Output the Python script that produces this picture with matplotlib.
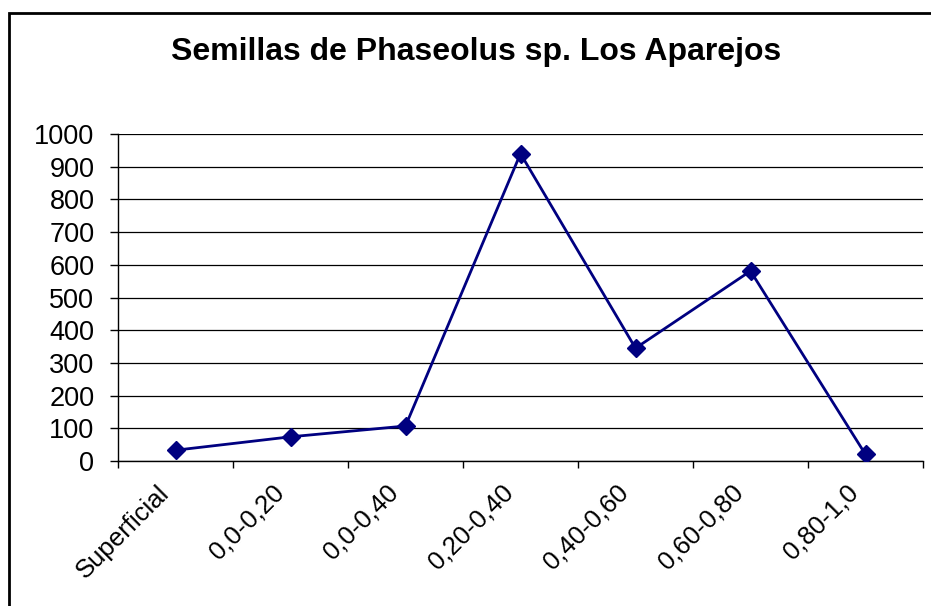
import matplotlib.pyplot as plt
from matplotlib.patches import Rectangle
from matplotlib.transforms import ScaledTranslation

# profundidades y cantidad de semillas
categorias = ["Superficial", "0,0-0,20", "0,0-0,40", "0,20-0,40",
              "0,40-0,60", "0,60-0,80", "0,80-1,0"]
semillas = [33, 74, 107, 940, 345, 581, 20]
y_ticks = list(range(0, 1001, 100))

plt.rcParams['font.family'] = ['Liberation Sans', 'DejaVu Sans']

fig = plt.figure(figsize=(9.31, 6.06), dpi=100)
ax = fig.add_axes([118 / 931, 1 - 461 / 606, (923 - 118) / 931, (461 - 134) / 606])

x = [i + 0.5 for i in range(len(categorias))]
ax.plot(x, semillas, color='#000080', linewidth=2, marker='D',
        markersize=9, markerfacecolor='#000080', markeredgecolor='#000080', zorder=3)

ax.set_xlim(0, len(categorias))
ax.set_ylim(0, 1000)
ax.set_yticks(y_ticks)
ax.set_yticklabels([str(v) for v in y_ticks], fontsize=19.5)
ax.set_xticks(range(len(categorias) + 1))
ax.set_xticklabels([])
ax.set_xticks(x, minor=True)
ax.set_xticklabels(categorias, minor=True, rotation=45, ha='right', va='top',
                   rotation_mode='anchor', fontsize=18.5)
ax.tick_params(axis='x', which='minor', length=0, pad=14)
ax.tick_params(axis='x', which='major', length=5, width=1, color='black', direction='out')
ax.tick_params(axis='y', length=6, width=1, color='black', direction='out', pad=11)

# desplazar etiquetas rotadas hacia la izquierda
desplazamiento = ScaledTranslation(-19 / 100, 0, fig.dpi_scale_trans)
for lbl in ax.get_xticklabels(minor=True):
    lbl.set_transform(lbl.get_transform() + desplazamiento)

ax.grid(axis='y', color='black', linewidth=0.9)
ax.set_axisbelow(True)
for side in ['top', 'right']:
    ax.spines[side].set_visible(False)
for side in ['left', 'bottom']:
    ax.spines[side].set_color('black')
    ax.spines[side].set_linewidth(1)

fig.text(0.511, 1 - 52 / 606, "Semillas de Phaseolus sp. Los Aparejos",
         ha='center', va='center', fontsize=23, fontweight='bold')

# marco del gráfico
fig.patches.append(Rectangle((9 / 931, -0.1), 1.2, 1.1 + (1 - 13 / 606) - 1,
                             transform=fig.transFigure, fill=False,
                             edgecolor='black', linewidth=2))

fig.savefig("out.png", dpi=100)
